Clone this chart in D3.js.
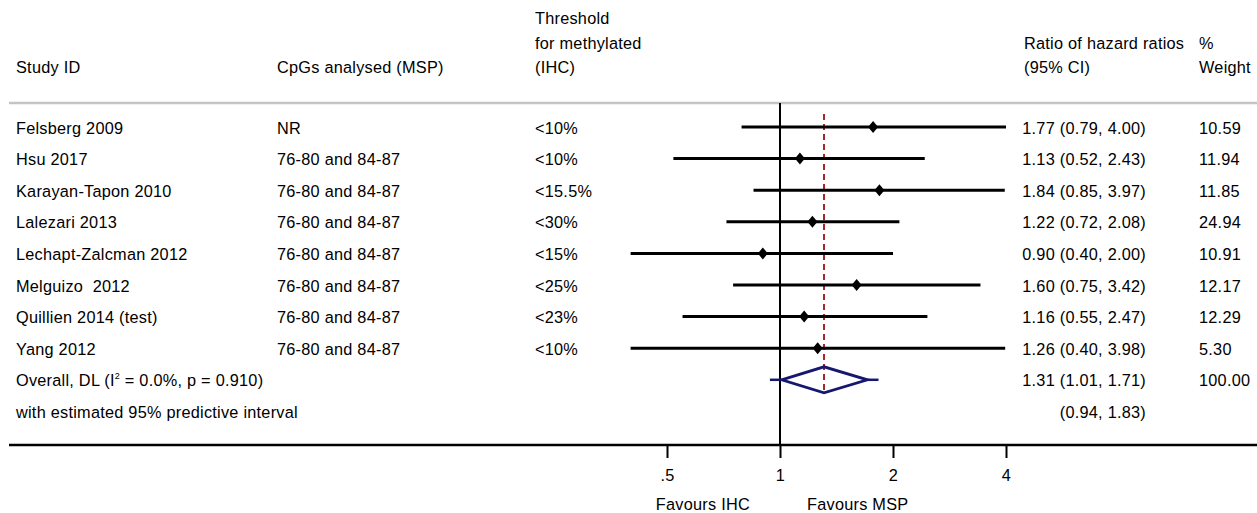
<!DOCTYPE html>
<html>
<head>
<meta charset="utf-8">
<script src="https://cdn.jsdelivr.net/npm/d3@7"></script>
<style>
  html, body { margin: 0; padding: 0; background: white; }
  text { white-space: pre; }
</style>
</head>
<body>
<div id="chart"></div>
<script>
// дані з рисунка
const studies = ["Felsberg 2009", "Hsu 2017", "Karayan-Tapon 2010", "Lalezari 2013",
  "Lechapt-Zalcman 2012", "Melguizo  2012", "Quillien 2014 (test)", "Yang 2012"];
const cpgs = ["NR", "76-80 and 84-87", "76-80 and 84-87", "76-80 and 84-87",
  "76-80 and 84-87", "76-80 and 84-87", "76-80 and 84-87", "76-80 and 84-87"];
const thresholds = ["<10%", "<10%", "<15.5%", "<30%", "<15%", "<25%", "<23%", "<10%"];
const hr = [1.77, 1.13, 1.84, 1.22, 0.90, 1.60, 1.16, 1.26];
const lower = [0.79, 0.52, 0.85, 0.72, 0.40, 0.75, 0.55, 0.40];
const upper = [4.00, 2.43, 3.97, 2.08, 2.00, 3.42, 2.47, 3.98];
const weights = ["10.59", "11.94", "11.85", "24.94", "10.91", "12.17", "12.29", "5.30"];
const overall = { est: 1.31, lo: 1.01, hi: 1.71, weight: "100.00" };
const predictive = { lo: 0.94, hi: 1.83 };
const tickValues = [0.5, 1, 2, 4];
const tickLabels = [".5", "1", "2", "4"];

function drawForest(containerId) {
    const width = 1257;
    const height = 513;
    const font = "'Liberation Sans', Arial, sans-serif";
    const fs = "16.3px";
    const base = 6.5; // зсув базової лінії тексту від центру рядка

    const cols = { study: 16, cpg: 277, thr: 535, ci: 1146, wt: 1199 };
    const rowY0 = 127, rowStep = 31.6;
    const headLineY = 103, axisY = 445;

    const colors = { navy: "#17176f", red: "#a3262a", grey: "#c4c4c4" };

    const container = d3.select(containerId);
    container.selectAll("*").remove();

    const svg = container.append("svg")
        .attr("width", width)
        .attr("height", height)
        .style("display", "block")
        .style("background", "white")
        .style("font-family", font)
        .style("font-size", fs)
        .style("letter-spacing", "0.25px");

    const x = d3.scaleLog().domain([0.5, 4]).range([667, 1006]);
    const y = d3.scaleLinear().domain([0, 1]).range([rowY0, rowY0 + rowStep]);

    // 1. Заголовки колонок
    const head = (tx, ty, s) => svg.append("text").attr("x", tx).attr("y", ty).text(s);
    head(cols.study, 73, "Study ID");
    head(cols.cpg, 73, "CpGs analysed (MSP)");
    head(cols.thr, 24, "Threshold");
    head(cols.thr, 48.5, "for methylated");
    head(cols.thr, 73, "(IHC)");
    head(1024, 48.5, "Ratio of hazard ratios");
    head(1024, 73, "(95% CI)");
    head(cols.wt, 48.5, "%");
    head(cols.wt, 73, "Weight");

    svg.append("line")
        .attr("x1", 9).attr("x2", width)
        .attr("y1", headLineY).attr("y2", headLineY)
        .attr("stroke", colors.grey).attr("stroke-width", 2.5);

    // 2. Лінія нульового ефекту та пунктир загальної оцінки
    svg.append("line")
        .attr("x1", x(1)).attr("x2", x(1))
        .attr("y1", headLineY).attr("y2", axisY)
        .attr("stroke", "#000").attr("stroke-width", 2);

    svg.append("line")
        .attr("x1", x(overall.est)).attr("x2", x(overall.est))
        .attr("y1", 114).attr("y2", y(8) + 13)
        .attr("stroke", colors.red).attr("stroke-width", 2)
        .attr("stroke-dasharray", "6,4");

    // 3. Рядки досліджень
    const rows = svg.append("g").selectAll("g")
        .data(studies.map((s, i) => i))
        .join("g")
        .attr("transform", i => `translate(0,${y(i)})`);

    rows.append("text").attr("x", cols.study).attr("y", base).text(i => studies[i]);
    rows.append("text").attr("x", cols.cpg).attr("y", base).text(i => cpgs[i]);
    rows.append("text").attr("x", cols.thr).attr("y", base).text(i => thresholds[i]);
    rows.append("text").attr("x", cols.ci).attr("y", base).attr("text-anchor", "end")
        .text(i => `${hr[i].toFixed(2)} (${lower[i].toFixed(2)}, ${upper[i].toFixed(2)})`);
    rows.append("text").attr("x", cols.wt).attr("y", base).text(i => weights[i]);

    rows.append("line")
        .attr("x1", i => x(lower[i])).attr("x2", i => x(upper[i]))
        .attr("stroke", "#000").attr("stroke-width", 3);

    rows.append("path")
        .attr("d", i => `M${x(hr[i]) - 5},0L${x(hr[i])},-6L${x(hr[i]) + 5},0L${x(hr[i])},6Z`)
        .attr("fill", "#000");

    // 4. Загальна оцінка (ромб) і прогностичний інтервал
    const oy = y(8);
    const ov = svg.append("g").attr("transform", `translate(0,${oy})`);

    // один текстовий елемент з надрядковим "2"
    const ovText = ov.append("text").attr("x", cols.study).attr("y", base);
    ovText.append("tspan").text("Overall, DL (I");
    ovText.append("tspan").attr("dy", -7).style("font-size", "9px").text("2");
    ovText.append("tspan").attr("dy", 7).text(" = 0.0%, p = 0.910)");

    ov.append("text").attr("x", cols.ci).attr("y", base).attr("text-anchor", "end")
        .text(`${overall.est.toFixed(2)} (${overall.lo.toFixed(2)}, ${overall.hi.toFixed(2)})`);
    ov.append("text").attr("x", cols.wt).attr("y", base).text(overall.weight);

    ov.append("line")
        .attr("x1", x(predictive.lo)).attr("x2", x(overall.lo))
        .attr("stroke", colors.navy).attr("stroke-width", 2.5);
    ov.append("line")
        .attr("x1", x(overall.hi)).attr("x2", x(predictive.hi))
        .attr("stroke", colors.navy).attr("stroke-width", 2.5);

    ov.append("path")
        .attr("d", `M${x(overall.lo)},0L${x(overall.est)},-13L${x(overall.hi)},0L${x(overall.est)},13Z`)
        .attr("fill", "none")
        .attr("stroke", colors.navy).attr("stroke-width", 2.8)
        .attr("stroke-linejoin", "miter");

    const py = y(9);
    svg.append("text").attr("x", cols.study).attr("y", py + base)
        .text("with estimated 95% predictive interval");
    svg.append("text").attr("x", cols.ci).attr("y", py + base).attr("text-anchor", "end")
        .text(`(${predictive.lo.toFixed(2)}, ${predictive.hi.toFixed(2)})`);

    // 5. Вісь
    svg.append("line")
        .attr("x1", 9).attr("x2", width)
        .attr("y1", axisY).attr("y2", axisY)
        .attr("stroke", "#000").attr("stroke-width", 2.5);

    const axis = d3.axisBottom(x)
        .tickValues(tickValues)
        .tickFormat((d, i) => tickLabels[i])
        .tickSize(13)
        .tickPadding(11);

    const ax = svg.append("g")
        .attr("transform", `translate(0,${axisY})`)
        .call(axis);
    ax.select(".domain").remove();
    ax.selectAll(".tick line").attr("stroke", "#000").attr("stroke-width", 2);
    ax.selectAll(".tick text")
        .attr("fill", "#000")
        .style("font-family", font)
        .style("font-size", fs);

    svg.append("text")
        .attr("x", x(1) - 30).attr("y", 510)
        .attr("text-anchor", "end")
        .text("Favours IHC");
    svg.append("text")
        .attr("x", x(1) + 27).attr("y", 510)
        .text("Favours MSP");
}

drawForest("#chart");
</script>
</body>
</html>
